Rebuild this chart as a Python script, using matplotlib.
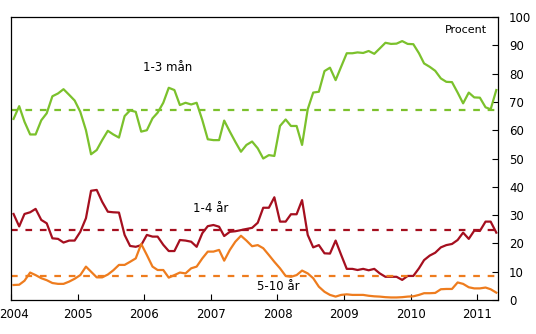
import numpy as np
import pandas as pd
import matplotlib
matplotlib.use("Agg")
import matplotlib.pyplot as plt
import matplotlib.dates as mdates
import matplotlib.transforms as mtransforms

# monthly observations, Jan 2004 - Apr 2011
dates = pd.date_range("2004-01-01", "2011-04-01", freq="MS") + pd.Timedelta(days=14)

man_1_3 = [64, 68.5, 63, 58.5, 58.5, 63.5, 66, 72, 73, 74.5, 72.5, 70.5,
           66.5, 60, 51.5, 53, 56.5, 59.8, 58.5, 57.4, 65, 67, 66.5, 59.5,
           60, 64.2, 66.2, 69.7, 75, 74.2, 68.9, 69.7, 69.1, 69.7, 63.6, 56.8,
           56.5, 56.5, 63.4, 59.5, 55.9, 52.4, 54.8, 56, 53.6, 50, 51.2, 50.9,
           61.5, 63.8, 61.5, 61.5, 54.8, 67.4, 73.3, 73.6, 80.9, 82.1, 77.7, 82.4,
           87.2, 87.2, 87.5, 87.3, 88, 87, 88.9, 90.9, 90.5, 90.6, 91.5, 90.5,
           90.4, 87.2, 83.6, 82.4, 81, 78.3, 77.1, 77, 73.3, 69.5, 73.3, 71.6,
           71.5, 68.1, 67.4, 74.2]

ar_1_4 = [30.4, 26, 30.4, 31, 32.2, 28.3, 27.1, 21.8, 21.6, 20.3, 21, 21,
          24.1, 28.9, 38.6, 38.9, 34.7, 31.2, 31, 30.9, 23, 19.1, 18.8, 19.4,
          23, 22.4, 22.4, 19.5, 17.3, 17.3, 21.2, 21, 20.6, 18.8, 23.6, 26.1,
          26.5, 25.9, 22.6, 24.1, 24.3, 24.7, 25.1, 25.5, 27.3, 32.6, 32.6, 36.3,
          27.7, 27.7, 30.3, 30.3, 35.3, 23, 18.6, 19.4, 16.5, 16.4, 21, 16,
          11, 11, 10.6, 11, 10.5, 11, 9.4, 8.2, 8.2, 8.2, 7.1, 8.5,
          8.5, 11.2, 14.1, 15.7, 16.7, 18.6, 19.4, 19.8, 21.2, 23.8, 21.6, 24.5,
          24.4, 27.7, 27.7, 23.8]

ar_5_10 = [5.3, 5.4, 6.8, 9.7, 8.8, 7.7, 7, 6, 5.7, 5.7, 6.5, 7.5,
           8.8, 11.8, 10, 8, 8, 9, 10.5, 12.4, 12.4, 13.5, 14.7, 19.8,
           15.9, 11.8, 10.6, 10.6, 7.9, 8.8, 9.7, 9.4, 11.2, 11.8, 14.7, 17.1,
           17.1, 17.7, 13.9, 17.7, 20.6, 22.7, 21, 19, 19.4, 18.3, 15.9, 13.5,
           11.2, 8.5, 8.2, 8.8, 10.4, 9.4, 7.7, 4.7, 2.9, 1.8, 1.2, 1.8,
           2, 1.8, 1.8, 1.8, 1.5, 1.3, 1.2, 1, 0.9, 0.9, 1, 1.2,
           1.3, 1.8, 2.4, 2.4, 2.5, 3.8, 3.9, 3.9, 6.2, 5.7, 4.5, 4.1,
           4.1, 4.4, 3.8, 2.6]

# long-run averages (dashed lines)
avg_1_3 = 67.2
avg_1_4 = 24.7
avg_5_10 = 8.5

green = "#7BC12C"
red = "#A50F1F"
orange = "#EE7C1E"

fig = plt.figure(figsize=(5.36, 3.34), dpi=100)
ax = fig.add_axes([0.0205, 0.1018, 0.9085, 0.8472])

ax.plot(dates, man_1_3, color=green, linewidth=1.6)
ax.plot(dates, ar_1_4, color=red, linewidth=1.6)
ax.plot(dates, ar_5_10, color=orange, linewidth=1.6)

dash = (0, (3, 3.5))
ax.axhline(avg_1_3, color=green, linewidth=1.6, linestyle=dash)
ax.axhline(avg_1_4, color=red, linewidth=1.6, linestyle=dash)
ax.axhline(avg_5_10, color=orange, linewidth=1.6, linestyle=dash)

ax.set_ylim(0, 100)
ax.set_xlim(pd.Timestamp("2004-01-01"), pd.Timestamp("2011-04-24"))
ax.set_yticks(np.arange(0, 101, 10))
ax.yaxis.tick_right()
ax.xaxis.set_major_locator(mdates.YearLocator())
ax.xaxis.set_major_formatter(mdates.DateFormatter("%Y"))
ax.tick_params(axis="both", direction="in", length=4, width=0.8,
               labelsize=8.5, pad=6)
ax.tick_params(axis="y", pad=8)
for s in ax.spines.values():
    s.set_linewidth(0.9)

# first year label sits at the left edge, nudge it inside the canvas
fig.canvas.draw()
first = ax.get_xticklabels()[0]
first.set_transform(first.get_transform() +
                    mtransforms.ScaledTranslation(3.5 / 100, 0, fig.dpi_scale_trans))

ax.text(pd.Timestamp("2006-05-10"), 82.3, "1-3 mån", fontsize=8.5,
        ha="center", va="center")
ax.text(pd.Timestamp("2007-01-01"), 32.5, "1-4 år", fontsize=8.5,
        ha="center", va="center")
ax.text(pd.Timestamp("2008-01-08"), 4.9, "5-10 år", fontsize=8.5,
        ha="center", va="center")
ax.text(pd.Timestamp("2010-10-28"), 95.4, "Procent", fontsize=8,
        ha="center", va="center")

fig.savefig("out.png", dpi=100)
